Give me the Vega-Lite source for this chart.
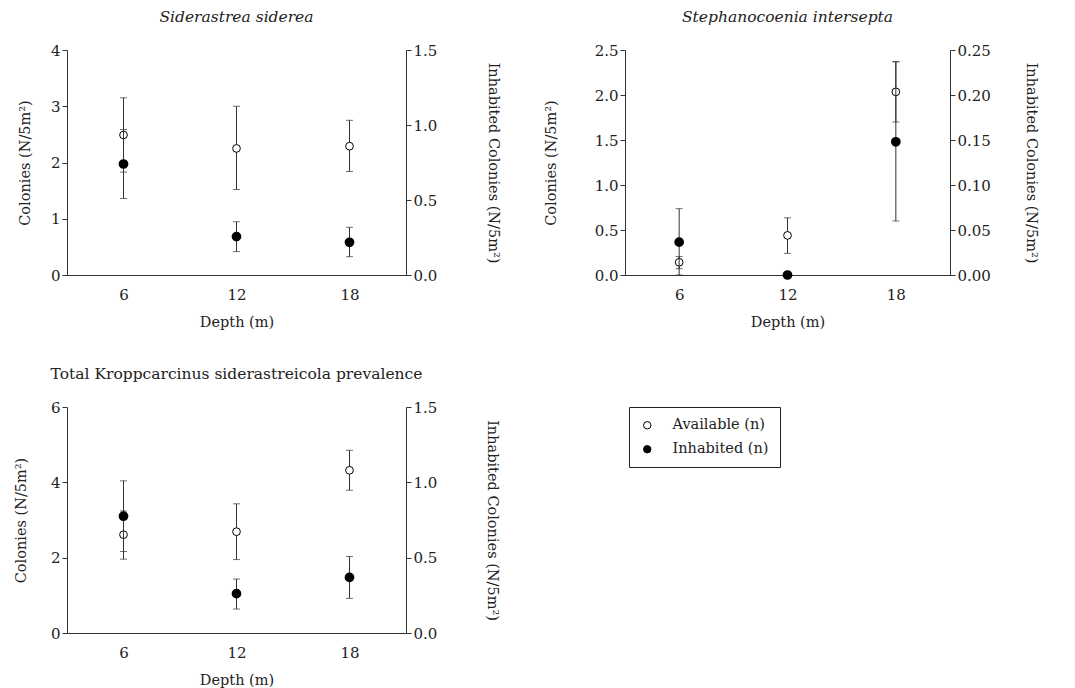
{
  "$schema": "https://vega.github.io/schema/vega-lite/v6.json",
  "background": "white",
  "padding": {"left": 13, "top": 9, "right": 5, "bottom": 5},
  "config": {
    "font": "DejaVu Serif",
    "view": {"stroke": null},
    "title": {"font": "DejaVu Serif", "fontSize": 15.5, "fontWeight": "normal", "color": "#222", "offset": 18},
    "axis": {
      "grid": false, "domainColor": "#333", "tickColor": "#333", "labelColor": "#222", "titleColor": "#222",
      "labelFont": "DejaVu Serif", "titleFont": "DejaVu Serif", "labelFontSize": 15, "titleFontSize": 14.5,
      "titleFontWeight": "normal", "tickSize": 5, "labelPadding": 2
    },
    "axisX": {"ticks": false, "labelPadding": 12, "titlePadding": 13, "labelFlush": false},
    "axisY": {"labelFlush": false}
  },
  "datasets": {
    "d": [
      {"panel": "S", "depth": 6, "series": "Available (n)", "value": 2.49, "lo": 1.83, "hi": 3.15},
      {"panel": "S", "depth": 12, "series": "Available (n)", "value": 2.25, "lo": 1.52, "hi": 3.0},
      {"panel": "S", "depth": 18, "series": "Available (n)", "value": 2.29, "lo": 1.84, "hi": 2.75},
      {"panel": "S", "depth": 6, "series": "Inhabited (n)", "value": 0.74, "lo": 0.51, "hi": 0.97},
      {"panel": "S", "depth": 12, "series": "Inhabited (n)", "value": 0.256, "lo": 0.156, "hi": 0.355},
      {"panel": "S", "depth": 18, "series": "Inhabited (n)", "value": 0.218, "lo": 0.122, "hi": 0.318},
      {"panel": "St", "depth": 6, "series": "Available (n)", "value": 0.141, "lo": 0.07, "hi": 0.205},
      {"panel": "St", "depth": 12, "series": "Available (n)", "value": 0.44, "lo": 0.24, "hi": 0.635},
      {"panel": "St", "depth": 18, "series": "Available (n)", "value": 2.035, "lo": 1.7, "hi": 2.37},
      {"panel": "St", "depth": 6, "series": "Inhabited (n)", "value": 0.0365, "lo": 0.0, "hi": 0.0737},
      {"panel": "St", "depth": 12, "series": "Inhabited (n)", "value": 0.0, "lo": 0.0, "hi": 0.0},
      {"panel": "St", "depth": 18, "series": "Inhabited (n)", "value": 0.148, "lo": 0.06, "hi": 0.237},
      {"panel": "T", "depth": 6, "series": "Available (n)", "value": 2.61, "lo": 1.96, "hi": 3.24},
      {"panel": "T", "depth": 12, "series": "Available (n)", "value": 2.69, "lo": 1.95, "hi": 3.43},
      {"panel": "T", "depth": 18, "series": "Available (n)", "value": 4.32, "lo": 3.79, "hi": 4.85},
      {"panel": "T", "depth": 6, "series": "Inhabited (n)", "value": 0.775, "lo": 0.541, "hi": 1.01},
      {"panel": "T", "depth": 12, "series": "Inhabited (n)", "value": 0.261, "lo": 0.159, "hi": 0.358},
      {"panel": "T", "depth": 18, "series": "Inhabited (n)", "value": 0.369, "lo": 0.23, "hi": 0.508}
    ]
  },
  "resolve": {"scale": {"fill": "independent"}, "legend": {"fill": "independent"}},
  "spacing": 37,
  "vconcat": [
    {
      "spacing": 42,
      "hconcat": [
        {
          "width": 339, "height": 225,
          "title": {"text": "Siderastrea siderea", "fontStyle": "italic"},
          "data": {"name": "d"},
          "transform": [{"filter": "datum.panel === 'S'"}],
          "encoding": {"x": {"field": "depth", "type": "quantitative", "scale": {"domain": [3, 21], "nice": false}, "axis": {"values": [6, 12, 18], "title": "Depth (m)"}}},
          "layer": [
            {
              "transform": [{"filter": "datum.series === 'Available (n)'"}],
              "layer": [
                {"mark": {"type": "errorbar", "ticks": {"size": 7}, "color": "#333"},
                 "encoding": {"y": {"field": "lo", "type": "quantitative", "scale": {"domain": [0, 4], "nice": false}, "axis": {"orient": "left", "values": [0, 1, 2, 3, 4], "title": "Colonies (N/5m²)", "titlePadding": 18}}, "y2": {"field": "hi"}}},
                {"mark": {"type": "point", "shape": "circle", "filled": true, "fill": "white", "stroke": "black", "strokeWidth": 1, "size": 60, "opacity": 1},
                 "encoding": {"y": {"field": "value", "type": "quantitative", "scale": {"domain": [0, 4], "nice": false}, "axis": {"orient": "left", "values": [0, 1, 2, 3, 4], "title": "Colonies (N/5m²)", "titlePadding": 18}}}}
              ]
            },
            {
              "transform": [{"filter": "datum.series === 'Inhabited (n)'"}],
              "layer": [
                {"mark": {"type": "errorbar", "ticks": {"size": 7}, "color": "#333"},
                 "encoding": {"y": {"field": "lo", "type": "quantitative", "scale": {"domain": [0, 1.5], "nice": false}, "axis": {"orient": "right", "values": [0, 0.5, 1, 1.5], "format": ".1f", "title": "Inhabited Colonies (N/5m²)", "titlePadding": 49}}, "y2": {"field": "hi"}}},
                {"mark": {"type": "point", "shape": "circle", "filled": true, "fill": "black", "stroke": "black", "size": 60, "opacity": 1},
                 "encoding": {"y": {"field": "value", "type": "quantitative", "scale": {"domain": [0, 1.5], "nice": false}, "axis": {"orient": "right", "values": [0, 0.5, 1, 1.5], "format": ".1f", "title": "Inhabited Colonies (N/5m²)", "titlePadding": 49}}}}
              ]
            }
          ],
          "resolve": {"scale": {"y": "independent"}}
        },
        {
          "width": 325, "height": 225,
          "title": {"text": "Stephanocoenia intersepta", "fontStyle": "italic"},
          "data": {"name": "d"},
          "transform": [{"filter": "datum.panel === 'St'"}],
          "encoding": {"x": {"field": "depth", "type": "quantitative", "scale": {"domain": [3, 21], "nice": false}, "axis": {"values": [6, 12, 18], "title": "Depth (m)"}}},
          "layer": [
            {
              "transform": [{"filter": "datum.series === 'Available (n)'"}],
              "layer": [
                {"mark": {"type": "errorbar", "ticks": {"size": 7}, "color": "#333"},
                 "encoding": {"y": {"field": "lo", "type": "quantitative", "scale": {"domain": [0, 2.5], "nice": false}, "axis": {"orient": "left", "values": [0, 0.5, 1, 1.5, 2, 2.5], "format": ".1f", "title": "Colonies (N/5m²)", "titlePadding": 36}}, "y2": {"field": "hi"}}},
                {"mark": {"type": "point", "shape": "circle", "filled": true, "fill": "white", "stroke": "black", "strokeWidth": 1, "size": 60, "opacity": 1},
                 "encoding": {"y": {"field": "value", "type": "quantitative", "scale": {"domain": [0, 2.5], "nice": false}, "axis": {"orient": "left", "values": [0, 0.5, 1, 1.5, 2, 2.5], "format": ".1f", "title": "Colonies (N/5m²)", "titlePadding": 36}}}}
              ]
            },
            {
              "transform": [{"filter": "datum.series === 'Inhabited (n)'"}],
              "layer": [
                {"mark": {"type": "errorbar", "ticks": {"size": 7}, "color": "#333"},
                 "encoding": {"y": {"field": "lo", "type": "quantitative", "scale": {"domain": [0, 0.25], "nice": false}, "axis": {"orient": "right", "values": [0, 0.05, 0.1, 0.15, 0.2, 0.25], "format": ".2f", "title": "Inhabited Colonies (N/5m²)", "titlePadding": 33}}, "y2": {"field": "hi"}}},
                {"mark": {"type": "point", "shape": "circle", "filled": true, "fill": "black", "stroke": "black", "size": 60, "opacity": 1},
                 "encoding": {"y": {"field": "value", "type": "quantitative", "scale": {"domain": [0, 0.25], "nice": false}, "axis": {"orient": "right", "values": [0, 0.05, 0.1, 0.15, 0.2, 0.25], "format": ".2f", "title": "Inhabited Colonies (N/5m²)", "titlePadding": 33}}}}
              ]
            }
          ],
          "resolve": {"scale": {"y": "independent"}}
        }
      ]
    },
    {
      "width": 339, "height": 226,
      "title": {"text": "Total Kroppcarcinus siderastreicola prevalence"},
      "data": {"name": "d"},
      "transform": [{"filter": "datum.panel === 'T'"}],
      "encoding": {"x": {"field": "depth", "type": "quantitative", "scale": {"domain": [3, 21], "nice": false}, "axis": {"values": [6, 12, 18], "title": "Depth (m)"}}},
      "layer": [
        {
          "transform": [{"filter": "datum.series === 'Available (n)'"}],
          "layer": [
            {"mark": {"type": "errorbar", "ticks": {"size": 7}, "color": "#333"},
             "encoding": {"y": {"field": "lo", "type": "quantitative", "scale": {"domain": [0, 6], "nice": false}, "axis": {"orient": "left", "values": [0, 2, 4, 6], "title": "Colonies (N/5m²)", "titlePadding": 22}}, "y2": {"field": "hi"}}},
            {"mark": {"type": "point", "shape": "circle", "filled": true, "stroke": "black", "strokeWidth": 1, "size": 60, "opacity": 1},
             "encoding": {
               "y": {"field": "value", "type": "quantitative", "scale": {"domain": [0, 6], "nice": false}, "axis": {"orient": "left", "values": [0, 2, 4, 6], "title": "Colonies (N/5m²)", "titlePadding": 22}},
               "fill": {"field": "series", "type": "nominal", "scale": {"domain": ["Available (n)", "Inhabited (n)"], "range": ["white", "black"]},
                        "legend": {"title": null, "orient": "none", "legendX": 562, "legendY": 0, "strokeColor": "#222", "padding": 11, "symbolType": "circle", "symbolSize": 55, "symbolStrokeColor": "black", "symbolStrokeWidth": 1, "labelFont": "DejaVu Serif", "labelFontSize": 14.5, "labelColor": "#222", "labelOffset": 18, "rowPadding": 9, "fillColor": "white"}}
             }}
          ]
        },
        {
          "transform": [{"filter": "datum.series === 'Inhabited (n)'"}],
          "layer": [
            {"mark": {"type": "errorbar", "ticks": {"size": 7}, "color": "#333"},
             "encoding": {"y": {"field": "lo", "type": "quantitative", "scale": {"domain": [0, 1.5], "nice": false}, "axis": {"orient": "right", "values": [0, 0.5, 1, 1.5], "format": ".1f", "title": "Inhabited Colonies (N/5m²)", "titlePadding": 48}}, "y2": {"field": "hi"}}},
            {"mark": {"type": "point", "shape": "circle", "filled": true, "stroke": "black", "size": 60, "opacity": 1},
             "encoding": {
               "y": {"field": "value", "type": "quantitative", "scale": {"domain": [0, 1.5], "nice": false}, "axis": {"orient": "right", "values": [0, 0.5, 1, 1.5], "format": ".1f", "title": "Inhabited Colonies (N/5m²)", "titlePadding": 48}},
               "fill": {"field": "series", "type": "nominal"}
             }}
          ]
        }
      ],
      "resolve": {"scale": {"y": "independent"}}
    }
  ]
}
